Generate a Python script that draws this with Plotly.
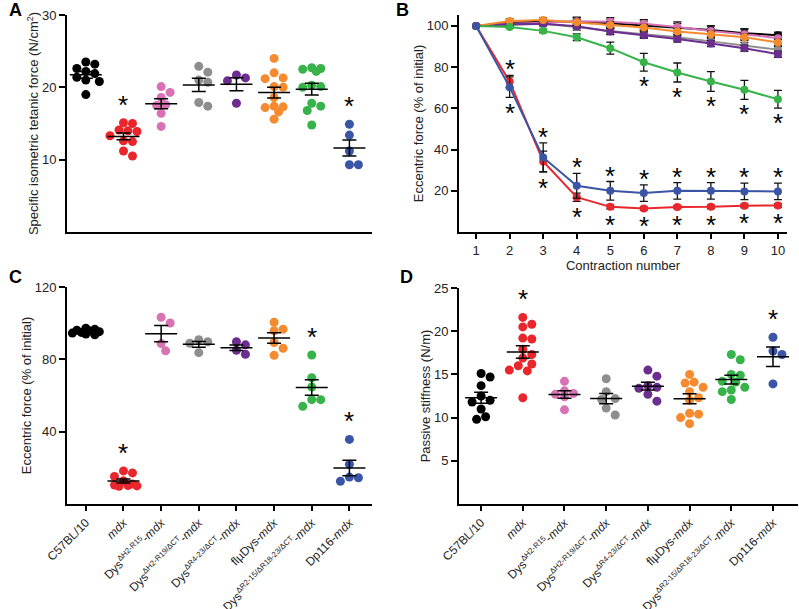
import plotly.graph_objects as go
import numpy as np

W, H = 799, 609


def sup(s):
    return '<sup><span style="font-size:7.8px">%s</span></sup>' % s


genotypes = ['C57BL/10', '<i>mdx</i>', 'Dys' + sup('ΔH2-R15') + '-<i>mdx</i>',
             'Dys' + sup('ΔH2-R19/ΔCT') + '-<i>mdx</i>', 'Dys' + sup('ΔR4-23/ΔCT') + '-<i>mdx</i>',
             'flµDys-<i>mdx</i>', 'Dys' + sup('ΔR2-15/ΔR18-23/ΔCT') + '-<i>mdx</i>', 'Dp116-<i>mdx</i>']
colors = ['#000000', '#e8262b', '#d872b4', '#8e8e8e', '#6b2d8e', '#f58b2e', '#37b34a', '#3a55a5']

# A: specific isometric tetanic force (N/cm2)
spec_c57 = [23.5, 23.2, 22.6, 22.2, 21.9, 21.4, 21.0, 20.8, 19.0]
spec_mdx = [15.1, 15.0, 14.1, 14.0, 13.9, 13.3, 12.6, 12.5, 11.2, 10.5]
spec_h2r15 = [20.1, 19.3, 18.6, 17.6, 17.5, 16.4, 14.6]
spec_h2r19 = [22.9, 22.1, 21.0, 20.7, 17.9, 17.4]
spec_r423 = [21.7, 21.3, 20.9, 17.8]
spec_flmu = [24.0, 22.0, 21.3, 21.2, 20.1, 20.0, 18.6, 17.4, 17.3, 17.2, 16.6, 15.6]
spec_r215 = [22.7, 22.6, 22.5, 22.2, 20.3, 20.1, 20.0, 17.8, 17.4, 16.8, 14.8]
spec_dp116 = [14.9, 13.4, 11.2, 9.3, 9.3]
stars_a = [1, 7]

# B: eccentric force over contractions (% of initial), mean and SEM
contraction = [1, 2, 3, 4, 5, 6, 7, 8, 9, 10]
ecc_c57 = [100, 101.5, 102, 102, 101.3, 100.3, 99.2, 98, 96.5, 95.5]
ecc_c57_err = [0, 1, 1, 2, 2, 2, 2, 2, 2, 1.5]
ecc_h2r15 = [100, 101, 101.5, 102.3, 102, 101, 99.5, 97.5, 96, 94]
ecc_h2r15_err = [0, 1, 1, 2, 2, 2, 2.5, 2.5, 2.5, 2.5]
ecc_h2r19 = [100, 100.5, 101, 99.5, 97.5, 96, 94.5, 92.5, 90.5, 88.5]
ecc_h2r19_err = [0, 1, 1, 1.5, 1.5, 1.5, 1.5, 1.5, 1.5, 1.5]
ecc_r423 = [100, 100.8, 101, 99.8, 97.3, 95.5, 93.7, 91.5, 89.2, 86.3]
ecc_r423_err = [0, 1, 1, 1, 1.5, 1.5, 1.5, 1.5, 1.5, 1.5]
ecc_flmu = [100, 102.4, 102.9, 101.8, 100.5, 99.2, 97.3, 96, 94.5, 92]
ecc_flmu_err = [0, 1, 1, 1.5, 1.5, 1.5, 1.5, 1.5, 1.5, 1.5]
ecc_r215 = [100, 99.5, 97.6, 94.5, 89.2, 82.4, 77.4, 73.0, 69.0, 64.4]
ecc_r215_err = [0, 0.5, 0.8, 1.6, 2.9, 4.3, 4.6, 4.8, 4.6, 4.3]
ecc_mdx = [100, 73, 34.2, 16.9, 12.2, 11.4, 12.1, 12.2, 12.7, 12.9]
ecc_mdx_err = [0, 3, 5, 2, 1, 0.8, 0.8, 0.8, 0.8, 0.8]
ecc_dp116 = [100, 70.3, 36.2, 22.4, 20, 18.9, 20, 20, 19.7, 19.7]
ecc_dp116_err = [0, 5, 7, 6, 4.5, 4, 4, 4, 4, 4]
stars_b_low = [2, 3, 4, 5, 6, 7, 8, 9, 10]
stars_b_r215 = [6, 7, 8, 9, 10]

# C: eccentric force after 10th contraction (% of initial)
eccf_c57 = [97.2, 96.6, 96.1, 95.7, 95.3, 94.9, 94.5, 94.0, 93.6]
eccf_mdx = [18.3, 17.2, 15.2, 12.8, 11.0, 10.5, 10.2, 10.0, 9.8]
eccf_h2r15 = [103.3, 100.1, 88.7, 84.7]
eccf_h2r19 = [90.8, 89.7, 88.9, 83.7]
eccf_r423 = [89.7, 88.0, 85.0, 82.8]
eccf_flmu = [100.5, 96.7, 95.8, 89.3, 86.1, 82.2]
eccf_r215 = [82.4, 69.8, 64.7, 57.7, 57.7, 54.0]
eccf_dp116 = [35.7, 22.0, 14.9, 14.5, 12.6]
stars_c = [1, 6, 7]

# D: passive stiffness (N/m)
stif_c57 = [15.1, 14.7, 13.7, 12.5, 12.0, 11.8, 11.0, 10.1, 9.8]
stif_mdx = [21.6, 20.8, 20.5, 19.2, 19.1, 17.9, 17.3, 16.9, 16.2, 16.0, 15.5, 15.4, 12.3]
stif_h2r15 = [14.2, 13.1, 12.8, 12.7, 12.4, 10.9]
stif_h2r19 = [14.5, 13.0, 12.2, 12.1, 11.1, 10.3]
stif_r423 = [15.5, 14.8, 13.7, 13.5, 13.4, 12.7, 11.9]
stif_flmu = [15.0, 14.1, 14.0, 13.5, 13.0, 12.3, 12.0, 10.5, 10.4, 10.0, 9.3]
stif_r215 = [17.3, 16.7, 15.0, 14.9, 14.2, 14.1, 13.5, 13.2, 13.0, 12.1]
stif_dp116 = [19.3, 17.7, 17.3, 13.9]
stars_d = [1, 7]

FONT = 'Arial, Liberation Sans, Helvetica, sans-serif'

# panel boxes in pixels: (left, right, top, bottom)
box_a = (67, 372, 15, 232)
box_b = (459, 787, 15, 232)
box_c = (67, 372, 287, 504)
box_d = (459, 798, 288, 504)


def dom_x(b):
    return [b[0] / W, b[1] / W]


def dom_y(b):
    return [1 - b[3] / H, 1 - b[2] / H]


def swarm(vals, ux, uy, d=9.0, max_off=14.0):
    # simple beeswarm: horizontal offsets (data units), points may overlap when crowded
    vals = np.asarray(vals, float)
    order = np.argsort(-vals, kind='stable')
    step = d * 0.5
    cands = [0.0]
    k = 1
    while k * step <= max_off:
        cands += [k * step, -k * step]
        k += 1
    placed = []
    offs = np.zeros(len(vals))
    for i in order:
        yp = vals[i] * uy
        best, best_d = 0.0, -1
        for c in cands:
            dmin = min([np.hypot(c - px, yp - py) for px, py in placed] or [1e9])
            if dmin >= d * 0.92:
                best = c
                break
            if dmin > best_d:
                best, best_d = c, dmin
        placed.append((best, yp))
        offs[i] = best / ux
    return offs


fig = go.Figure()


def dot_panel(data, n, box, xr, yr, stars):
    xa, ya = 'x' + n, 'y' + n
    ux = (box[1] - box[0]) / (xr[1] - xr[0])
    uy = (box[3] - box[2]) / (yr[1] - yr[0])
    for i, vals in enumerate(data):
        fig.add_trace(go.Scatter(x=i + swarm(vals, ux, uy), y=vals, mode='markers',
                                 marker=dict(size=9, color=colors[i]),
                                 xaxis=xa, yaxis=ya))
    for i, vals in enumerate(data):
        m = np.mean(vals)
        sem = np.std(vals, ddof=1) / np.sqrt(len(vals))
        fig.add_trace(go.Scatter(x=[i], y=[m], mode='markers',
                                 marker=dict(size=1, color='rgba(0,0,0,0)'),
                                 error_y=dict(type='data', array=[sem], width=7, thickness=1.5, color='black'),
                                 error_x=dict(type='data', array=[16 / ux], width=0, thickness=1.5, color='black'),
                                 xaxis=xa, yaxis=ya))
    for i in stars:
        fig.add_annotation(x=i, y=max(data[i]), xref=xa, yref=ya, text='*', showarrow=False,
                           yanchor='middle', yshift=18, font=dict(size=26, color='black'))


dot_panel([spec_c57, spec_mdx, spec_h2r15, spec_h2r19, spec_r423, spec_flmu, spec_r215, spec_dp116],
          '', box_a, [-0.5, 7.6], [0, 30], stars_a)
dot_panel([eccf_c57, eccf_mdx, eccf_h2r15, eccf_h2r19, eccf_r423, eccf_flmu, eccf_r215, eccf_dp116],
          '3', box_c, [-0.5, 7.6], [0, 120], stars_c)
dot_panel([stif_c57, stif_mdx, stif_h2r15, stif_h2r19, stif_r423, stif_flmu, stif_r215, stif_dp116],
          '4', box_d, [-0.53, 7.6], [0, 25], stars_d)

# B: lines
series_b = [(ecc_c57, ecc_c57_err, colors[0]), (ecc_h2r15, ecc_h2r15_err, colors[2]),
            (ecc_h2r19, ecc_h2r19_err, colors[3]), (ecc_r423, ecc_r423_err, colors[4]),
            (ecc_flmu, ecc_flmu_err, colors[5]), (ecc_r215, ecc_r215_err, colors[6]),
            (ecc_mdx, ecc_mdx_err, colors[1]), (ecc_dp116, ecc_dp116_err, colors[7])]
for y, e, c in series_b:
    fig.add_trace(go.Scatter(x=contraction, y=y, mode='lines+markers',
                             line=dict(color=c, width=2), marker=dict(size=8, color=c),
                             error_y=dict(type='data', array=e, width=4, thickness=1.3, color='#111'),
                             xaxis='x2', yaxis='y2'))

for k in stars_b_low:
    j = k - 1
    top = max(ecc_mdx[j] + ecc_mdx_err[j], ecc_dp116[j] + ecc_dp116_err[j])
    bot = min(ecc_mdx[j] - ecc_mdx_err[j], ecc_dp116[j] - ecc_dp116_err[j])
    fig.add_annotation(x=k, y=top, xref='x2', yref='y2', text='*', showarrow=False,
                       yanchor='middle', yshift=6, font=dict(size=26, color='black'))
    fig.add_annotation(x=k, y=bot, xref='x2', yref='y2', text='*', showarrow=False,
                       yanchor='middle', yshift=-16, font=dict(size=26, color='black'))
for k in stars_b_r215:
    j = k - 1
    fig.add_annotation(x=k, y=ecc_r215[j] - ecc_r215_err[j], xref='x2', yref='y2', text='*',
                       showarrow=False, yanchor='middle', yshift=-15, font=dict(size=26, color='black'))

axis_base = dict(showline=True, linecolor='black', linewidth=2, ticks='outside', ticklen=6,
                 tickwidth=2, tickcolor='black', showgrid=False, zeroline=False, automargin=False,
                 tickfont=dict(size=13, color='#222', family=FONT))
ytitle_font = dict(size=13, color='#222', family=FONT)
cat_font = dict(size=12, color='#222', family=FONT)

fig.update_layout(
    width=W, height=H, margin=dict(l=0, r=0, t=0, b=0),
    paper_bgcolor='white', plot_bgcolor='white', showlegend=False,
    font=dict(family=FONT),
    xaxis=dict(axis_base, domain=dom_x(box_a), range=[-0.5, 7.6], ticks='', showticklabels=False, anchor='y'),
    yaxis=dict(axis_base, domain=dom_y(box_a), range=[0, 30], tickvals=[10, 20, 30], anchor='x',
               title=dict(text='Specific isometric tetanic force (N/cm<sup>2</sup>)', font=ytitle_font, standoff=0)),
    xaxis2=dict(axis_base, domain=dom_x(box_b), range=[0.49, 10.27], tickvals=contraction, anchor='y2',
                ticklen=5, title=dict(text='Contraction number', font=ytitle_font, standoff=0)),
    yaxis2=dict(axis_base, domain=dom_y(box_b), range=[0, 105.3], tickvals=[20, 40, 60, 80, 100], anchor='x2',
                title=dict(text='Eccentric force (% of initial)', font=ytitle_font, standoff=0)),
    xaxis3=dict(axis_base, domain=dom_x(box_c), range=[-0.5, 7.6], tickvals=list(range(8)), ticktext=genotypes,
                tickangle=-45, anchor='y3', tickfont=cat_font, ticklen=5),
    yaxis3=dict(axis_base, domain=dom_y(box_c), range=[0, 120], tickvals=[40, 80, 120], anchor='x3',
                title=dict(text='Eccentric force (% of initial)', font=ytitle_font, standoff=0)),
    xaxis4=dict(axis_base, domain=dom_x(box_d), range=[-0.53, 7.6], tickvals=list(range(8)), ticktext=genotypes,
                tickangle=-45, anchor='y4', tickfont=cat_font, ticklen=5),
    yaxis4=dict(axis_base, domain=dom_y(box_d), range=[0, 25], tickvals=[5, 10, 15, 20, 25], anchor='x4',
                title=dict(text='Passive stiffness (N/m)', font=ytitle_font, standoff=0)),
)

for letter, px, py in [('A', 7, 10), ('B', 394, 10), ('C', 7, 277), ('D', 398, 277)]:
    fig.add_annotation(x=px / W, y=1 - py / H, xref='paper', yref='paper', text='<b>%s</b>' % letter,
                       showarrow=False, xanchor='left', yanchor='middle',
                       font=dict(size=18, color='black', family=FONT))

fig.write_html("out.html", config={'displayModeBar': False},
               post_script="document.body.style.margin='0';document.body.style.overflow='hidden';")
